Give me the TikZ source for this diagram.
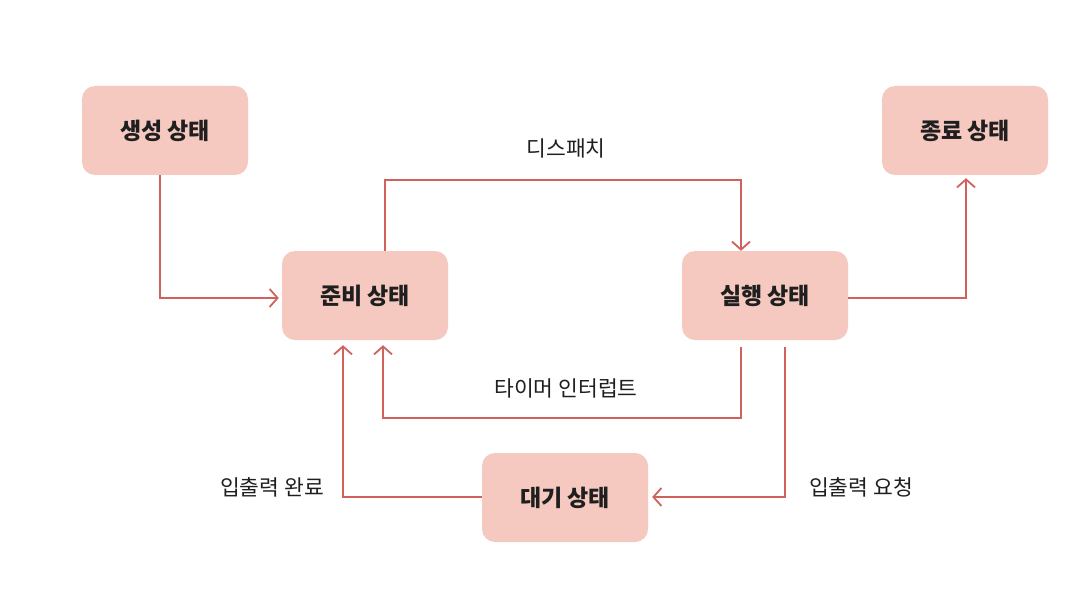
\documentclass[tikz,border=0pt]{standalone}
\usepackage{fontspec}
\newfontfamily\kr{Noto Sans CJK KR}
\usetikzlibrary{arrows.meta}
\definecolor{boxfill}{HTML}{F5C9C0}
\definecolor{linec}{HTML}{D0625E}
\begin{document}
\begin{tikzpicture}[x=1pt,y=-1pt,
  state/.style={fill=boxfill, rounded corners=13pt, minimum width=166pt, minimum height=89pt, inner sep=0pt, font=\kr\bfseries\fontsize{23}{26}\selectfont, text=black!88},
  conn/.style={draw=linec, line width=1.8pt, -{Straight Barb[length=8pt,width=18pt,line width=1.8pt]}},
  lbl/.style={font=\kr\fontsize{21.5}{24}\selectfont, text=black!88}]
\useasboundingbox (0,0) rectangle (1092,596);
\fill[white] (0,0) rectangle (1092,596);
\node[state] (new) at (165,130.5) {생성 상태};
\node[state] (exit) at (965,130.5) {종료 상태};
\node[state] (ready) at (365,295.5) {준비 상태};
\node[state] (run) at (765,295.5) {실행 상태};
\node[state] (wait) at (565,497.5) {대기 상태};
\coordinate (c1) at (160,298);
\coordinate (c2a) at (385,180);
\coordinate (c2b) at (741,180);
\coordinate (c3) at (966,298);
\coordinate (c4a) at (741,418);
\coordinate (c4b) at (383,418);
\coordinate (c5) at (785,497);
\coordinate (c6) at (343,497);
\draw[conn] (new.south -| c1) -- (c1) -- ([xshift=-3pt]c1 -| ready.west);
\draw[conn] (ready.north -| c2a) -- (c2a) -- (c2b) -- (run.north -| c2b);
\draw[conn] (c3 -| run.east) -- (c3) -- ([yshift=-3pt]exit.south -| c3);
\draw[conn] ([yshift=-7pt]run.south -| c4a) -- (c4a) -- (c4b) -- ([yshift=-5pt]ready.south -| c4b);
\draw[conn] ([yshift=-7pt]run.south -| c5) -- (c5) -- ([xshift=4pt]c5 -| wait.east);
\draw[conn] (c6 -| wait.west) -- (c6) -- ([yshift=-5pt]ready.south -| c6);
\node[lbl] (l1) at (566,148) {디스패치};
\node[lbl] (l2) at (566,388) {타이머 인터럽트};
\node[lbl] (l3) at (861,487) {입출력 요청};
\node[lbl] (l4) at (272,487) {입출력 완료};
\end{tikzpicture}
\end{document}
